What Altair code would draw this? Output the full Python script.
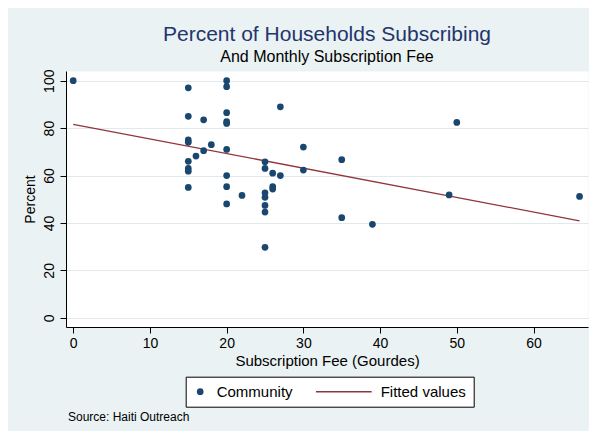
import altair as alt
import pandas as pd

# ---- data ----
fee = [0, 15, 15, 17, 20, 20, 20, 20, 20, 15, 15, 18, 17, 16, 20, 15, 15, 15, 15,
       20, 20, 20, 22, 27, 30, 30, 35, 35, 39, 25, 25, 26, 27, 26, 26, 25, 25, 25,
       25, 25, 50, 49, 66]
pct = [100, 97, 85, 83.5, 100, 97.5, 86.5, 82.7, 82, 75, 74, 73, 70.5, 68.2, 71,
       66, 63, 61.8, 55, 60, 55.3, 48, 51.6, 89, 72, 62.3, 66.7, 42.2, 39.4, 65.8,
       63, 61, 60, 55.3, 54.3, 52.7, 50.8, 47.4, 44.6, 29.7, 82.4, 51.8, 51.2]
fit_fee = [0, 66]
fit_pct = [81.6, 40.9]
series_names = ["Community", "Fitted values"]
x_ticks = [0, 10, 20, 30, 40, 50, 60]
y_ticks = [0, 20, 40, 60, 80, 100]
title_text = "Percent of Households Subscribing"
subtitle_text = "And Monthly Subscription Fee"
x_title = "Subscription Fee (Gourdes)"
y_title = "Percent"
source_text = ["Source: Haiti Outreach"]

FONT = "Liberation Sans"
NAVY = "#1a476f"
MAROON = "#90353b"

pts = pd.DataFrame({"fee": fee, "pct": pct, "series": series_names[0]})
fit = pd.DataFrame({"fee": fit_fee, "pct": fit_pct, "series": series_names[1]})
src = pd.DataFrame({"t": source_text})

xs = alt.Scale(domain=[-0.94, 67.1], nice=False, zero=False)
ys = alt.Scale(domain=[-3.9, 104.1], nice=False, zero=False)

x_axis = alt.Axis(values=x_ticks, grid=False, title=x_title, tickSize=6,
                  labelPadding=3, labelFontSize=14, titleFontSize=15,
                  titlePadding=3)
y_axis = alt.Axis(values=y_ticks, grid=True, gridColor="#e1e9ed", title=y_title,
                  tickSize=6, labelAngle=-90, labelAlign="center",
                  labelBaseline="bottom", labelPadding=4, labelFontSize=14,
                  titleFontSize=14, titlePadding=5)

color_scale = alt.Scale(domain=series_names, range=[NAVY, MAROON])
shape_scale = alt.Scale(domain=series_names,
                        range=["circle", "M-1,-0.025H1V0.025H-1Z"])
size_scale = alt.Scale(domain=series_names, range=[45, 3136])

legend = alt.Legend(title=None, orient="none", legendX=119.7, legendY=305.7,
                    direction="horizontal", fillColor="white", strokeColor="black",
                    padding=7, labelFont=FONT, labelFontSize=15, labelColor="black",
                    labelOffset=9, columnPadding=23, clipHeight=16,
                    symbolStrokeWidth=0, symbolOpacity=1)

points = alt.Chart(pts).mark_point(filled=True, opacity=1).encode(
    x=alt.X("fee:Q", scale=xs, axis=x_axis),
    y=alt.Y("pct:Q", scale=ys, axis=y_axis),
    color=alt.Color("series:N", scale=color_scale, legend=legend),
    shape=alt.Shape("series:N", scale=shape_scale, legend=legend),
    size=alt.Size("series:N", scale=size_scale, legend=legend),
)

line = alt.Chart(fit).mark_line(strokeWidth=1.3, color=MAROON).encode(
    x=alt.X("fee:Q", scale=xs),
    y=alt.Y("pct:Q", scale=ys),
)

source = alt.Chart(src).mark_text(align="left", baseline="middle", font=FONT,
                                  fontSize=12, color="black").encode(
    x=alt.value(2), y=alt.value(346), text="t:N")

chart = alt.layer(line, points, source).properties(
    width=522, height=256,
    padding={"left": 58, "top": 63, "right": 1, "bottom": 104},
    autosize=alt.AutoSizeParams(type="none"),
    background="#eaf2f3",
    title=alt.Title(title_text, subtitle=subtitle_text, anchor="middle",
                    font=FONT, fontSize=21, fontWeight="normal", color="#23356b",
                    subtitleFont=FONT, subtitleFontSize=16, subtitleColor="black",
                    offset=4, subtitlePadding=4),
).configure_view(fill="white", stroke="transparent").configure_axis(
    labelFont=FONT, titleFont=FONT, labelColor="black", titleColor="black",
    titleFontWeight="normal", domainColor="black", tickColor="black",
    domainWidth=1, tickWidth=1,
)

chart.save("out.html", embed_options={"renderer": "svg", "actions": False})
